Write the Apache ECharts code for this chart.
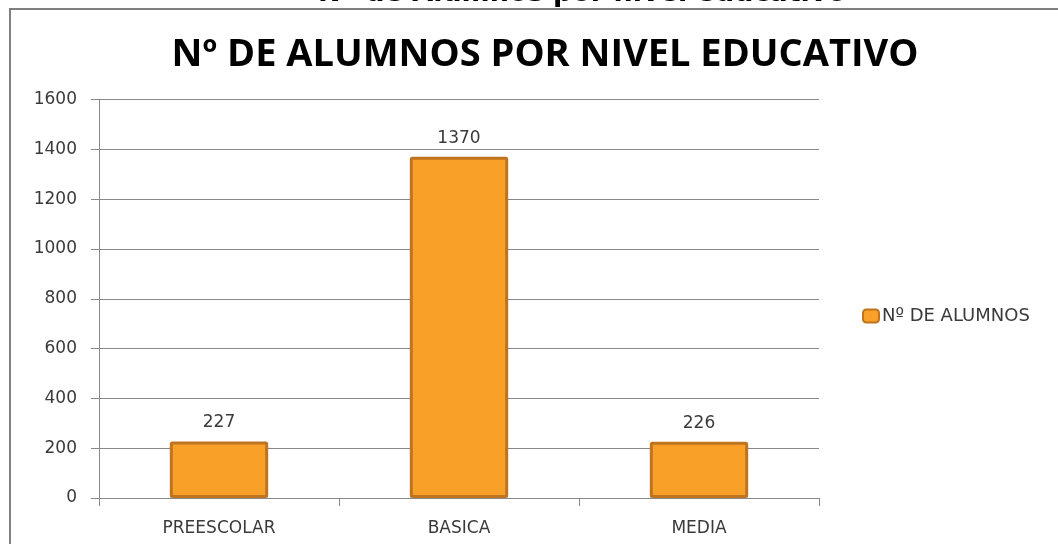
<!DOCTYPE html>
<html>
<head>
<meta charset="utf-8">
<script src="https://cdn.jsdelivr.net/npm/echarts@6/dist/echarts.min.js"></script>
<style>
  html, body { margin: 0; padding: 0; background: #fff; }
  #chart { width: 1058px; height: 544px; }
</style>
</head>
<body>
<div id="chart"></div>
<script>
// datos
const niveles = ['PREESCOLAR', 'BASICA', 'MEDIA'];
const alumnos = [227, 1370, 226];
const serieNombre = 'Nº DE ALUMNOS';
const yMin = 0, yMax = 1600, yPaso = 200;

const chart = echarts.init(document.getElementById('chart'));
const txt = '#3a3a3a';
const fuente = '"DejaVu Sans", "Open Sans", sans-serif';

const option = {
  backgroundColor: '#fff',
  animation: false,
  graphic: [
    {
      // marco del grafico
      type: 'rect',
      shape: { x: 10, y: 9, width: 1100, height: 600 },
      style: { fill: 'none', stroke: '#808080', lineWidth: 2 },
      silent: true
    },
    {
      // titulo de la hoja, cortado arriba
      type: 'text',
      x: 582,
      y: -20,
      style: {
        text: 'Nº de Alumnos por nivel educativo',
        font: 'bold 27px "DejaVu Sans", sans-serif',
        fill: '#000',
        align: 'center'
      },
      silent: true,
      z: -1
    }
  ],
  title: {
    text: 'Nº DE ALUMNOS POR NIVEL EDUCATIVO',
    left: 540,
    textAlign: 'center',
    top: 31,
    textStyle: {
      fontFamily: '"Open Sans", sans-serif',
      fontWeight: 'bold',
      fontSize: 38,
      color: '#000'
    }
  },
  legend: {
    left: 857,
    top: 302,
    itemWidth: 16,
    itemHeight: 13,
    itemGap: 4,
    icon: 'roundRect',
    textStyle: { fontFamily: fuente, fontSize: 18, color: txt, padding: [0, 0, 0, -2] },
    data: [serieNombre]
  },
  grid: { left: 99, right: 1058 - 819, top: 99.5, bottom: 544 - 498, containLabel: false },
  xAxis: {
    type: 'category',
    data: niveles,
    axisLine: { lineStyle: { color: '#888', width: 1 } },
    axisTick: { show: true, length: 8, lineStyle: { color: '#888' }, alignWithLabel: false },
    axisLabel: { fontFamily: fuente, fontSize: 17, color: txt, margin: 22 }
  },
  yAxis: {
    type: 'value',
    min: yMin,
    max: yMax,
    interval: yPaso,
    axisLine: { show: true, lineStyle: { color: '#888', width: 1 } },
    axisTick: { show: true, length: 8, lineStyle: { color: '#888' } },
    axisLabel: { fontFamily: fuente, fontSize: 17, color: txt, margin: 22, formatter: (v) => String(v) },
    splitLine: { lineStyle: { color: '#888', width: 1 } }
  },
  series: [
    {
      name: serieNombre,
      type: 'bar',
      data: alumnos,
      barWidth: '41%',
      itemStyle: {
        color: '#F9A028',
        borderColor: '#BF7420',
        borderWidth: 3,
        borderRadius: 1
      },
      label: {
        show: true,
        position: 'top',
        distance: 10,
        fontFamily: fuente,
        fontSize: 17,
        color: txt
      }
    }
  ]
};

chart.setOption(option);
</script>
</body>
</html>
